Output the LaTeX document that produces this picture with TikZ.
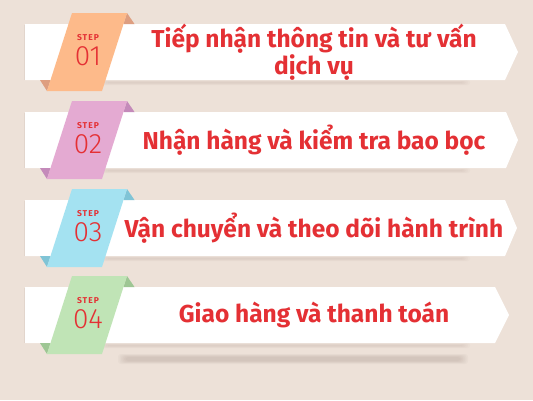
\documentclass[tikz,border=0pt]{standalone}
\usepackage{fontspec}
\setmainfont{Fira Sans}
\newfontfamily\numfont{Fira Sans Light}
\definecolor{bg}{RGB}{237,225,216}
\definecolor{txtred}{RGB}{228,48,52}
\definecolor{shd}{RGB}{150,130,120}
\definecolor{rib1}{RGB}{253,186,138}
\definecolor{fold1}{RGB}{222,158,128}
\definecolor{rib2}{RGB}{228,170,210}
\definecolor{fold2}{RGB}{196,138,186}
\definecolor{rib3}{RGB}{164,226,241}
\definecolor{fold3}{RGB}{128,196,214}
\definecolor{rib4}{RGB}{192,228,182}
\definecolor{fold4}{RGB}{158,198,148}
\tikzset{
  steplabel/.style={text=txtred, font=\fontsize{8.5}{9}\selectfont\bfseries\addfontfeature{LetterSpace=12}},
  stepnum/.style={text=txtred, font=\fontsize{28}{28}\selectfont\numfont},
  maintext/.style={text=txtred, font=\fontsize{24.5}{27}\selectfont\bfseries, align=center},
  boxfill/.style={fill=white},
}
\newcommand\mystep[8]{%
  % #1 top, #2 flat end, #3 point, #4 ribbon, #5 fold, #6 number, #7 text, #8 name
  \pgfmathsetmacro\tb{#1+56}
  \pgfmathsetmacro\tm{#1+28}
  \pgfmathsetmacro\rt{#1-11}
  \pgfmathsetmacro\rb{#1+67}
  % shadow
  \foreach \k in {0,...,4}{
    \fill[shd, opacity=0.035, rounded corners=2pt] (100+\k*2,\tb+\k*0.5) rectangle (470-\k*2,\tb+5-\k*0.5);
  }
  \fill[shd, opacity=0.12] (24,#1+1) rectangle (25.5,\tb);
  \fill[boxfill] (25,#1) -- (#2,#1) -- (#3,\tm) -- (#2,\tb) -- (25,\tb) -- cycle;
  \fill[#5] (127,\rt) -- (134.5,#1) -- (123.5,#1) -- cycle;
  \fill[#5] (47,\rb) -- (40,\tb) -- (50.5,\tb) -- cycle;
  \fill[#4] (72,\rt) -- (127,\rt) -- (102,\rb) -- (47,\rb) -- cycle;
  \node[steplabel] (#8s) at (88,#1+14) {STEP};
  \node[stepnum] (#8n) at (88,#1+32) {#6};
  \node[maintext] (#8t) at (314,\tm) {#7};
}
\begin{document}
\begin{tikzpicture}[x=1pt,y=-1pt]
\fill[bg] (0,0) rectangle (533,400);
\useasboundingbox (0,0) rectangle (533,400);
\mystep{24}{505}{518}{rib1}{fold1}{01}{Tiếp nhận thông tin và tư vấn\\dịch vụ}{a}
\mystep{112}{506}{518}{rib2}{fold2}{02}{Nhận hàng và kiểm tra bao bọc}{b}
\mystep{200}{505}{517}{rib3}{fold3}{03}{Vận chuyển và theo dõi hành trình}{c}
\foreach \k in {0,...,5}{
  \fill[shd, opacity=0.05, rounded corners=3pt] (118+\k*1.5,354+\k*0.6) rectangle (468-\k*1.5,364-\k*0.6);
}
\mystep{287}{495}{509}{rib4}{fold4}{04}{Giao hàng và thanh toán}{d}
\end{tikzpicture}
\end{document}
